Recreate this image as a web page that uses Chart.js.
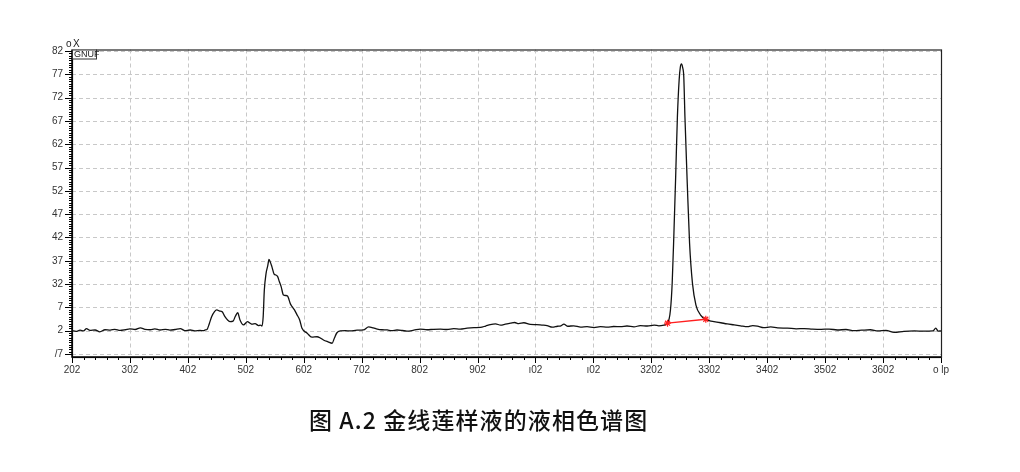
<!DOCTYPE html>
<html>
<head>
<meta charset="utf-8">
<script src="https://cdn.jsdelivr.net/npm/chart.js@4.4.1/dist/chart.umd.min.js"></script>
<style>
  html, body { margin: 0; padding: 0; background: #fff; }
  #wrap { position: relative; width: 1020px; height: 472px; }
  #caption {
    position: absolute; left: 309px; top: 405px;
    font-family: "Noto Sans CJK SC", sans-serif; font-size: 23px; line-height: 28px;
    font-weight: 500; letter-spacing: 1.1px;
    color: #111; white-space: pre;
  }
</style>
</head>
<body>
<div id="wrap">
  <canvas id="chart" width="1020" height="472"></canvas>
  <div id="caption">图 A.2 金线莲样液的液相色谱图</div>
</div>
<script>
// Tick labels as printed on the original (garbled export)
const xTickValues = [2, 3, 4, 5, 6, 7, 8, 9, 10, 11, 12, 13, 14, 15, 16, 17];
const xTickLabels = ['202', '302', '402', '502', '602', '702', '802', '902', 'ı02', 'ı02', '3202', '3302', '3402', '3502', '3602', 'o lp'];
const yTickValues = [0, 1, 2, 3, 4, 5, 6, 7, 8, 9, 10, 11, 12, 13];
const yTickLabels = ['/7', '2', '7', '32', '37', '42', '47', '52', '57', '62', '67', '72', '77', '82'];

// Retention time (axis units) and detector signal (axis units)
const times = [
  2.00, 2.07, 2.14, 2.20, 2.25, 2.31, 2.40, 2.48, 2.57, 2.66, 2.74, 2.83, 2.92, 3.00, 3.09, 3.18, 3.26, 3.35, 3.43, 3.52, 3.61, 3.69, 3.78, 3.87, 3.95, 4.04, 4.12, 4.21, 4.27, 4.30,
  4.33, 4.37, 4.41, 4.46, 4.50, 4.55, 4.59, 4.64, 4.69, 4.73, 4.78, 4.82, 4.86, 4.90, 4.96, 5.03, 5.07, 5.11, 5.16, 5.22, 5.25, 5.28, 5.30, 5.32, 5.35, 5.38, 5.40, 5.43, 5.45, 5.49, 5.52, 5.55, 5.58, 5.61, 5.65, 5.69, 5.72, 5.77, 5.80, 5.84, 5.88, 5.93, 5.97, 6.06, 6.14, 6.23, 6.29, 6.34, 6.42, 6.49, 6.53, 6.57, 6.63,
  6.72, 6.80, 6.92, 7.03, 7.12, 7.20, 7.27, 7.35, 7.44, 7.52, 7.61, 7.70, 7.78, 7.90, 8.01, 8.13, 8.24, 8.36, 8.47, 8.59, 8.70, 8.82, 8.94, 9.05, 9.14, 9.22, 9.31, 9.40, 9.48, 9.57, 9.64, 9.71, 9.80, 9.91, 10.02, 10.11, 10.20, 10.29, 10.38, 10.44, 10.49, 10.56, 10.66, 10.78, 10.89, 11.01, 11.12, 11.24, 11.35, 11.47, 11.58, 11.70, 11.81, 11.93, 12.05, 12.13, 12.22, 12.28,
  12.33, 12.36, 12.39, 12.42, 12.45, 12.48, 12.50, 12.52, 12.54, 12.56, 12.58, 12.62, 12.66, 12.71, 12.77, 12.85, 12.94, 13.01, 13.08, 13.20, 13.31, 13.43, 13.54, 13.66, 13.75, 13.83, 13.94, 14.06, 14.18, 14.35, 14.50, 14.64, 14.78, 14.93, 15.07, 15.21, 15.36, 15.50, 15.63, 15.78, 15.91, 16.05, 16.19, 16.36, 16.54, 16.70, 16.86, 16.91, 16.95, 17.00
];
const signal = [
  1.00, 0.97, 1.02, 0.99, 1.09, 1.01, 1.03, 0.95, 1.04, 1.02, 1.06, 1.01, 1.04, 1.08, 1.05, 1.12, 1.06, 1.04, 1.08, 1.03, 1.06, 1.02, 1.05, 1.09, 1.00, 1.03, 0.99, 1.01, 1.00, 1.03,
  1.05, 1.30, 1.60, 1.82, 1.89, 1.84, 1.82, 1.60, 1.45, 1.39, 1.41, 1.62, 1.77, 1.46, 1.25, 1.39, 1.33, 1.28, 1.30, 1.22, 1.24, 1.20, 1.60, 2.75, 3.46, 3.80, 4.06, 3.90, 3.75, 3.42, 3.39, 3.32, 3.10, 2.89, 2.53, 2.51, 2.49, 2.15, 2.03, 1.89, 1.70, 1.46, 1.10, 0.89, 0.72, 0.74, 0.68, 0.60, 0.52, 0.46, 0.69, 0.90, 0.99,
  1.00, 0.99, 1.02, 1.03, 1.16, 1.12, 1.07, 1.04, 1.03, 1.00, 1.03, 1.01, 0.98, 1.02, 1.07, 1.04, 1.06, 1.07, 1.05, 1.09, 1.07, 1.11, 1.13, 1.14, 1.20, 1.26, 1.29, 1.24, 1.28, 1.32, 1.35, 1.30, 1.34, 1.27, 1.26, 1.24, 1.22, 1.15, 1.19, 1.21, 1.28, 1.19, 1.21, 1.15, 1.17, 1.13, 1.17, 1.15, 1.18, 1.17, 1.20, 1.16, 1.22, 1.20, 1.24, 1.21, 1.24, 1.32,
  1.89, 3.05, 5.19, 7.61, 10.18, 11.76, 12.30, 12.45, 12.30, 11.90, 10.18, 7.33, 4.75, 3.03, 2.10, 1.67, 1.49, 1.42, 1.39, 1.34, 1.29, 1.25, 1.21, 1.17, 1.22, 1.20, 1.13, 1.16, 1.12, 1.11, 1.08, 1.09, 1.07, 1.06, 1.07, 1.03, 1.05, 1.00, 1.02, 1.04, 0.99, 1.01, 0.93, 0.97, 0.99, 0.98, 0.99, 1.11, 0.98, 0.99
];

// Integration baseline of the main peak
const baseTimes = [12.28, 12.94];
const baseSignal = [1.32, 1.49];

const AREA = { left: 72, right: 941, top: 49.5, bottom: 357 };

const frame = {
  id: 'frame',
  beforeDatasetsDraw(chart) {
    const { ctx, chartArea: a, scales: { x, y } } = chart;
    ctx.save();
    ctx.strokeStyle = '#c8c8c8';
    ctx.lineWidth = 1;
    ctx.setLineDash([4, 3]);
    xTickValues.forEach(v => {
      const px = Math.round(x.getPixelForValue(v)) + 0.5;
      ctx.beginPath(); ctx.moveTo(px, a.top); ctx.lineTo(px, a.bottom); ctx.stroke();
    });
    yTickValues.forEach(v => {
      const py = Math.round(y.getPixelForValue(v)) + 0.5;
      ctx.beginPath(); ctx.moveTo(a.left, py); ctx.lineTo(a.right, py); ctx.stroke();
    });
    ctx.restore();
  },
  afterDraw(chart) {
    const { ctx, chartArea: a, scales: { x, y } } = chart;
    ctx.save();
    ctx.strokeStyle = '#000';
    ctx.lineWidth = 1;
    // minor + major ticks on x
    for (let i = 0; i <= 75; i++) {
      const v = 2 + i * 0.2;
      const px = Math.round(x.getPixelForValue(v)) + 0.5;
      const len = i % 5 === 0 ? 6 : 3;
      ctx.beginPath(); ctx.moveTo(px, a.bottom); ctx.lineTo(px, a.bottom + len); ctx.stroke();
    }
    // minor + major ticks on y
    for (let i = 0; i <= 130; i++) {
      const v = i * 0.1;
      const py = Math.round(y.getPixelForValue(v)) + 0.5;
      const len = i % 10 === 0 ? 7 : 3;
      ctx.beginPath(); ctx.moveTo(a.left, py); ctx.lineTo(a.left - len, py); ctx.stroke();
    }
    // plot frame
    ctx.lineWidth = 1.2;
    ctx.strokeStyle = '#222';
    ctx.strokeRect(a.left + 0.5, a.top + 0.5, a.right - a.left, a.bottom - a.top);
    ctx.lineWidth = 1.5;
    ctx.strokeStyle = '#000';
    ctx.beginPath(); ctx.moveTo(a.left, a.top); ctx.lineTo(a.left, a.bottom); ctx.lineTo(a.right, a.bottom); ctx.stroke();
    // channel tag
    ctx.fillStyle = '#fff';
    ctx.fillRect(a.left, a.top, 24, 9);
    ctx.lineWidth = 1;
    ctx.strokeStyle = '#333';
    ctx.strokeRect(a.left + 0.5, a.top + 0.5, 24, 9);
    ctx.fillStyle = '#222';
    ctx.font = '9px "Liberation Sans", Arial, sans-serif';
    ctx.textBaseline = 'middle';
    ctx.fillText('GNUF', a.left + 2, a.top + 5);
    ctx.font = '10px "Liberation Sans", Arial, sans-serif';
    ctx.textBaseline = 'bottom';
    ctx.fillText('o', a.left - 6, a.top);
    ctx.fillText('X', a.left + 1, a.top);
    ctx.restore();
  }
};

new Chart(document.getElementById('chart'), {
  type: 'line',
  data: {
    datasets: [{
      data: times.map((t, i) => ({ x: t, y: signal[i] })),
      borderColor: '#111',
      borderWidth: 1.3,
      pointRadius: 0,
      cubicInterpolationMode: 'monotone',
      order: 2
    }, {
      data: baseTimes.map((t, i) => ({ x: t, y: baseSignal[i] })),
      borderColor: '#ff2020',
      borderWidth: 1.3,
      pointStyle: 'star',
      pointRadius: 3.5,
      pointBorderColor: '#ff2020',
      pointBorderWidth: 1.2,
      order: 1
    }]
  },
  options: {
    responsive: false,
    animation: false,
    layout: { padding: { left: 0, right: 1020 - AREA.right, top: AREA.top, bottom: 85 } },
    plugins: { legend: { display: false }, tooltip: { enabled: false } },
    scales: {
      x: {
        type: 'linear', min: 2, max: 17,
        afterBuildTicks: s => { s.ticks = xTickValues.map(v => ({ value: v })); },
        afterFit: s => { s.height = 472 - AREA.bottom - 85; },
        grid: { display: false, drawTicks: false },
        border: { display: false },
        ticks: {
          padding: 7, maxRotation: 0, autoSkip: false, color: '#333',
          font: { family: '"Liberation Sans", Arial, sans-serif', size: 10 },
          callback: (v, i) => xTickLabels[i]
        }
      },
      y: {
        type: 'linear', min: -0.13, max: 13.07,
        afterBuildTicks: s => { s.ticks = yTickValues.map(v => ({ value: v })); },
        afterFit: s => { s.width = AREA.left; },
        grid: { display: false, drawTicks: false },
        border: { display: false },
        ticks: {
          padding: 9, autoSkip: false, color: '#333',
          font: { family: '"Liberation Sans", Arial, sans-serif', size: 10 },
          callback: (v, i) => yTickLabels[i]
        }
      }
    }
  },
  plugins: [frame]
});
</script>
</body>
</html>
